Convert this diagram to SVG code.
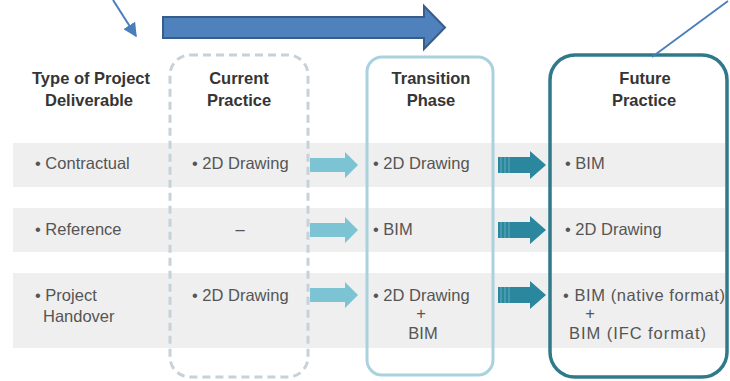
<svg xmlns="http://www.w3.org/2000/svg" width="730" height="381" viewBox="0 0 730 381">
<defs>
<style>
.band{fill:#efefef}
.hd{font-family:"Liberation Sans",Arial,sans-serif;font-weight:bold;font-size:16.5px;fill:#353535;text-anchor:middle}
.tx{font-family:"Liberation Sans",Arial,sans-serif;font-size:16.5px;fill:#555}
.ctr{text-anchor:middle}
.la{fill:#7cc3d3}
.da{fill:#2a879d}
.stripe{stroke:#7cc0cf;stroke-width:1;opacity:.7}
</style>
<marker id="ah" viewBox="0 0 10 10" refX="9" refY="5" markerWidth="7" markerHeight="7" orient="auto" markerUnits="strokeWidth">
<path d="M0,0 L10,5 L0,10 z" fill="#4a7ebb"/>
</marker>
</defs>
<rect width="730" height="381" fill="#fff"/>
<g id="bands">
<rect class="band" x="13" y="143" width="712" height="44"/>
<rect class="band" x="13" y="208" width="712" height="44"/>
<rect class="band" x="13" y="273" width="712" height="75"/>
</g>
<g id="current">
<rect x="170" y="55" width="138" height="322" rx="20" fill="none" stroke="#c5d2da" stroke-width="3" stroke-dasharray="8 5"/>
<text class="hd" x="239" y="84">Current</text>
<text class="hd" x="239" y="106">Practice</text>
<text class="tx" x="192" y="169">• 2D Drawing</text>
<text class="tx ctr" x="240" y="235">–</text>
<text class="tx" x="192" y="301">• 2D Drawing</text>
</g>
<g id="transition">
<rect x="367" y="57" width="126" height="318" rx="15" fill="none" stroke="#a9d2de" stroke-width="3"/>
<text class="hd" x="431" y="84">Transition</text>
<text class="hd" x="431" y="106">Phase</text>
<text class="tx" x="373" y="169">• 2D Drawing</text>
<text class="tx" x="373" y="235">• BIM</text>
<text class="tx" x="373" y="301">• 2D Drawing</text>
<text class="tx ctr" x="421" y="319">+</text>
<text class="tx ctr" x="423" y="339">BIM</text>
</g>
<g id="future">
<rect x="550" y="55" width="177" height="322" rx="25" fill="none" stroke="#2f7a8a" stroke-width="3.5"/>
<text class="hd" x="645" y="84">Future</text>
<text class="hd" x="644" y="106">Practice</text>
<text class="tx" x="565" y="169">• BIM</text>
<text class="tx" x="565" y="235">• 2D Drawing</text>
<text class="tx" x="563" y="301" textLength="162">• BIM (native format)</text>
<text class="tx ctr" x="590" y="319">+</text>
<text class="tx" x="569" y="339" textLength="137">BIM (IFC format)</text>
</g>
<g id="deliverable">
<text class="hd" x="91" y="84">Type of Project</text>
<text class="hd" x="89" y="106">Deliverable</text>
<text class="tx" x="35" y="169">• Contractual</text>
<text class="tx" x="35" y="235">• Reference</text>
<text class="tx" x="35" y="301">• Project</text>
<text class="tx" x="43" y="322">Handover</text>
</g>
<g id="connectors">
<line x1="113" y1="0" x2="136" y2="36" stroke="#4a7ebb" stroke-width="2" marker-end="url(#ah)"/>
<line x1="728" y1="1" x2="652" y2="57" stroke="#4a7ebb" stroke-width="1.8"/>
<path d="M163,17 H424 V6 L445,27.5 L424,49 V38 H163 Z" fill="#4f81bd" stroke="#385d8a" stroke-width="2"/>
<path class="la" d="M310,158 H345 V152 L358,165 L345,178 V172 H310 Z"/>
<path class="la" d="M310,223 H345 V217 L358,230 L345,243 V237 H310 Z"/>
<path class="la" d="M310,288 H345 V282 L358,295 L345,308 V302 H310 Z"/>
<path class="da" d="M498,157 H530 V151 L546,165 L530,179 V173 H498 Z"/>
<path class="da" d="M498,222 H530 V216 L546,230 L530,244 V238 H498 Z"/>
<path class="da" d="M498,287 H530 V281 L546,295 L530,309 V303 H498 Z"/>
<path class="stripe" d="M501,157v16M505,157v16M509,157v16M501,222v16M505,222v16M509,222v16M501,287v16M505,287v16M509,287v16"/>
</g>
</svg>
